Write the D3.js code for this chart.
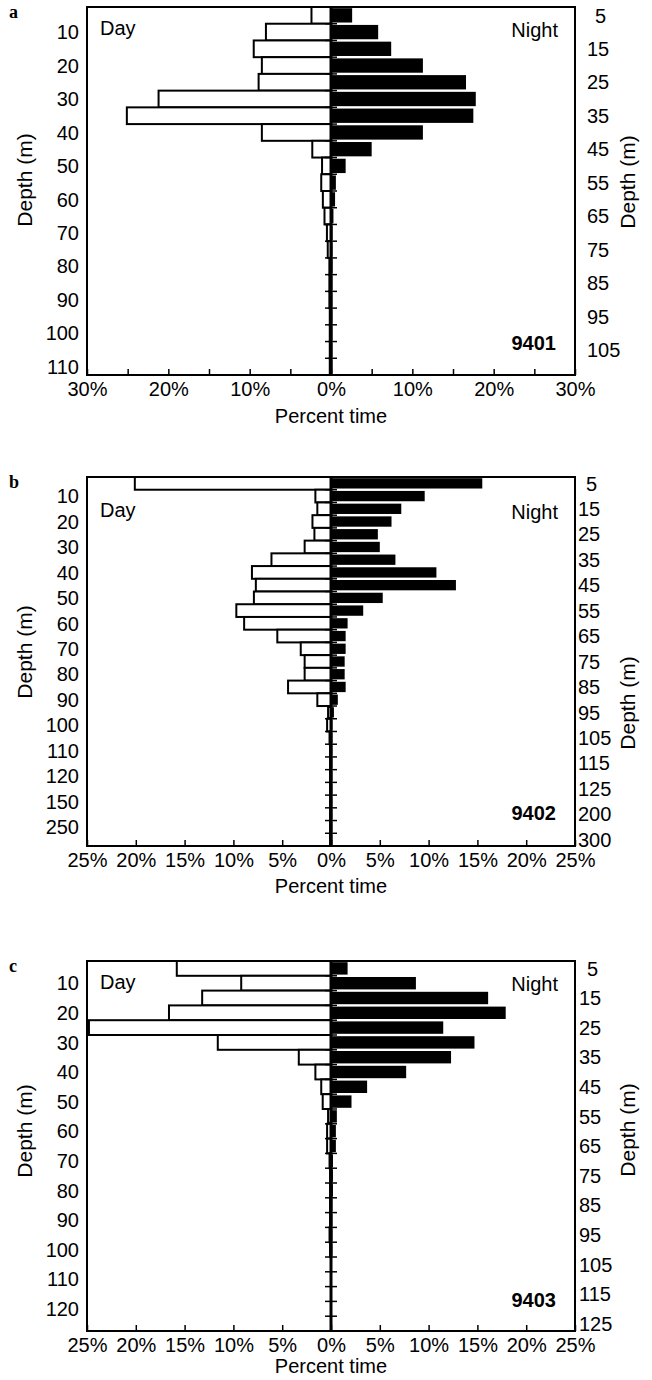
<!DOCTYPE html>
<html><head><meta charset="utf-8">
<script src="https://cdn.jsdelivr.net/npm/d3@7"></script>
<style>
body{margin:0;background:#fff}
svg{display:block}
text{font-family:"Liberation Sans",Arial,Helvetica,sans-serif;fill:#000}
</style>
</head><body>
<svg id="chart" width="652" height="1380"></svg>
<script>
// ---------- DATA ----------
// Depth bin labels (one per 5-m class; even index shown on right axis, odd on left axis)
const binsA = ["5","10","15","20","25","30","35","40","45","50","55","60","65","70","75","80","85","90","95","100","105","110"];
const dayA   = [2.4, 8.0, 9.5, 8.5, 8.9, 21.2, 25.1, 8.5, 2.3, 1.1, 1.2, 1.0, 0.8, 0.5, 0.4, 0.2, 0.2, 0.2, 0.15, 0.15, 0.15, 0.15];
const nightA = [2.6, 5.8, 7.4, 11.3, 16.6, 17.8, 17.5, 11.3, 5.0, 1.8, 0.6, 0.5, 0.3, 0.2, 0.2, 0.2, 0.15, 0.1, 0.1, 0.1, 0.1, 0.1];

const binsB = ["5","10","15","20","25","30","35","40","45","50","55","60","65","70","75","80","85","90","95","100","105","110","115","120","125","150","200","250","300"];
const dayB   = [20.1, 1.6, 1.4, 1.9, 1.7, 2.7, 6.1, 8.1, 7.7, 7.9, 9.7, 8.9, 5.5, 3.1, 2.7, 2.7, 4.4, 1.4, 0.3, 0.4, 0.15, 0.1, 0.1, 0.1, 0.1, 0.1, 0.1, 0.1, 0.1];
const nightB = [15.5, 9.6, 7.2, 6.2, 4.8, 5.0, 6.6, 10.8, 12.8, 5.3, 3.3, 1.7, 1.5, 1.5, 1.4, 1.4, 1.5, 0.7, 0.3, 0.15, 0.1, 0.1, 0.1, 0.1, 0.1, 0.1, 0.1, 0.1, 0.1];

const binsC = ["5","10","15","20","25","30","35","40","45","50","55","60","65","70","75","80","85","90","95","100","105","110","115","120","125"];
const dayC   = [15.8, 9.2, 13.2, 16.6, 24.8, 11.6, 3.3, 1.6, 1.0, 0.85, 0.3, 0.4, 0.4, 0.15, 0.1, 0.1, 0.1, 0.1, 0.15, 0.1, 0, 0, 0, 0, 0];
const nightC = [1.7, 8.7, 16.1, 17.9, 11.5, 14.7, 12.3, 7.7, 3.7, 2.1, 0.6, 0.5, 0.5, 0.2, 0.2, 0.2, 0.15, 0.1, 0.1, 0.1, 0, 0, 0, 0, 0];

const panelLetters = ["a","b","c"];
const panelCodes = ["9401","9402","9403"];
const axisMax = [30, 25, 25];
const labelSteps = [10, 5, 5];
const xTitle = "Percent time";
const yTitle = "Depth (m)";

// ---------- LAYOUT ----------
const frameL = 87, frameR = 575;
const layouts = [
  {top:7,   bottom:375,  dayY:21, codeOff:32, yTitleL:180, yTitleR:182, rightX:587, xTitleOff:48},
  {top:477, bottom:846,  dayY:33, codeOff:33, yTitleL:652, yTitleR:703, rightX:578, xTitleOff:47},
  {top:961, bottom:1331, dayY:21, codeOff:31, yTitleL:1131, yTitleR:1130, rightX:579, xTitleOff:42}
];

const panels = [
  {bins:binsA, day:dayA, night:nightA},
  {bins:binsB, day:dayB, night:nightB},
  {bins:binsC, day:dayC, night:nightC}
];

const svg = d3.select("#chart");

panels.forEach((p, i) => {
  const L = layouts[i];
  const M = axisMax[i];
  const g = svg.append("g");
  const x = d3.scaleLinear().domain([-M, M]).range([frameL, frameR]);
  const y = d3.scaleBand().domain(p.bins).range([L.top, L.bottom]).padding(0);
  const x0 = x(0);
  const bw = y.bandwidth();

  // day bars (left, white, outlined)
  g.selectAll("rect.day").data(p.bins.map((b, k) => ({b, v:p.day[k]})).filter(d => d.v > 0))
    .enter().append("rect")
    .attr("x", d => x(-d.v)).attr("y", d => y(d.b))
    .attr("width", d => x0 - x(-d.v)).attr("height", bw)
    .attr("fill", "#fff").attr("stroke", "#000").attr("stroke-width", 2);

  // night bars (right, black, separated by thin gaps)
  g.selectAll("rect.night").data(p.bins.map((b, k) => ({b, v:p.night[k]})).filter(d => d.v > 0))
    .enter().append("rect")
    .attr("x", x0).attr("y", d => y(d.b) + 1.2)
    .attr("width", d => Math.max(1.5, x(d.v) - x0)).attr("height", bw - 2.4)
    .attr("fill", "#000");

  // frame
  g.append("rect").attr("x", frameL).attr("y", L.top)
    .attr("width", frameR - frameL).attr("height", L.bottom - L.top)
    .attr("fill", "none").attr("stroke", "#000").attr("stroke-width", 2);

  // central axis with ticks at bin boundaries
  g.append("line").attr("x1", x0).attr("x2", x0).attr("y1", L.top).attr("y2", L.bottom)
    .attr("stroke", "#000").attr("stroke-width", 3);
  g.selectAll("line.ct").data(p.bins.slice(1)).enter().append("line")
    .attr("x1", x0 - 6).attr("x2", x0 + 6)
    .attr("y1", d => y(d)).attr("y2", d => y(d))
    .attr("stroke", "#000").attr("stroke-width", 1.5);

  // bottom axis
  const ticks = d3.range(-M, M + 0.001, 5);
  const ax = d3.axisBottom(x).tickValues(ticks).tickSizeInner(-6).tickSizeOuter(0)
    .tickFormat(d => (Math.round(Math.abs(d)) % labelSteps[i] === 0) ? Math.abs(d) + "%" : "");
  const axg = g.append("g").attr("transform", `translate(0,${L.bottom})`).call(ax);
  axg.select(".domain").remove();
  axg.selectAll(".tick line").attr("stroke", "#000").attr("stroke-width", 1.5);
  axg.selectAll(".tick text").attr("y", 7).attr("dy", "0.71em")
    .style("font-size", "20px").style("font-family", '"Liberation Sans",Arial,sans-serif').attr("fill", "#000");

  // depth labels: odd bins on left, even bins on right
  g.selectAll("text.yl").data(p.bins.filter((b, k) => k % 2 === 1)).enter().append("text")
    .attr("x", 79).attr("y", d => y(d) + bw / 2).attr("dy", "0.36em")
    .attr("text-anchor", "end").style("font-size", "20px").text(d => d);
  g.selectAll("text.yr").data(p.bins.filter((b, k) => k % 2 === 0)).enter().append("text")
    .attr("x", d => L.rightX + (d.length === 1 ? 8 : 0)).attr("y", d => y(d) + bw / 2).attr("dy", "0.36em")
    .attr("text-anchor", "start").style("font-size", "20px").text(d => d);

  // axis titles
  g.append("text").attr("x", x0).attr("y", L.bottom + L.xTitleOff).attr("text-anchor", "middle")
    .style("font-size", "20px").text(xTitle);
  g.append("text").attr("transform", `translate(32,${L.yTitleL}) rotate(-90)`).attr("text-anchor", "middle")
    .style("font-size", "21px").text(yTitle);
  g.append("text").attr("transform", `translate(635,${L.yTitleR}) rotate(-90)`).attr("text-anchor", "middle")
    .style("font-size", "21px").text(yTitle);

  // Day / Night / code
  g.append("text").attr("x", 100).attr("y", L.top + L.dayY).attr("dy", "0.36em")
    .style("font-size", "20px").text("Day");
  g.append("text").attr("x", 558).attr("y", L.top + L.dayY + 2).attr("dy", "0.36em")
    .attr("text-anchor", "end").style("font-size", "20px").text("Night");
  g.append("text").attr("x", 556).attr("y", L.bottom - L.codeOff).attr("dy", "0.36em")
    .attr("text-anchor", "end").style("font-size", "20px").style("font-weight", "bold").text(panelCodes[i]);

  // panel letter
  g.append("text").attr("x", 9).attr("y", L.top + 11)
    .style("font-family", '"Liberation Serif","DejaVu Serif",serif').style("font-weight", "bold")
    .style("font-size", "18px").text(panelLetters[i]);
});
</script>
</body></html>
